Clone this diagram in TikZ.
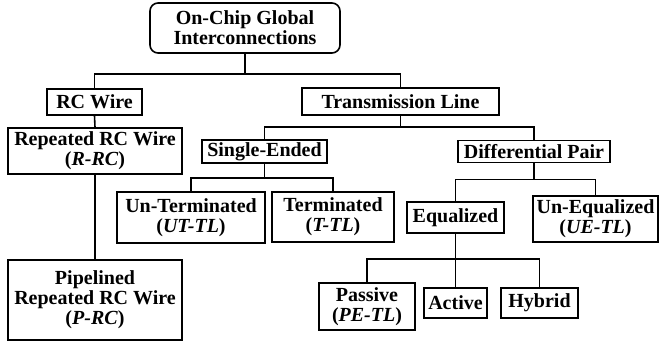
\documentclass[tikz,border=0pt]{standalone}
\usepackage{fontspec}
\setmainfont{Liberation Serif}

\begin{document}
\begin{tikzpicture}[x=1pt,y=-1pt]
      \tikzstyle{box}=[rectangle,draw=black,line width=1.6pt,inner sep=0pt,align=center,
        font=\fontsize{20}{20}\selectfont\bfseries]
      \tikzstyle{wire}=[line width=1.6pt]

      \useasboundingbox (0,0) rectangle (660,342);

      % root
      \node[box,rounded corners=8pt,minimum width=190pt,minimum height=50pt](root) at (245,28)
        {On-Chip Global\\Interconnections};

      % RC branch
      \node[box,minimum width=95pt,minimum height=26pt](rc) at (94.5,102){RC Wire};
      \node[box,minimum width=174pt,minimum height=46pt](rrc) at (95,151)
        {Repeated RC Wire\\(\textit{R-RC})};
      \node[box,minimum width=174pt,minimum height=80pt](prc) at (95,300)
        {Pipelined\\Repeated RC Wire\\(\textit{P-RC})};

      % transmission line branch
      \node[box,minimum width=197pt,minimum height=27pt](tl) at (400.5,101.5){Transmission Line};
      \node[box,minimum width=125pt,minimum height=23pt](se) at (264.5,151.5){Single-Ended};
      \node[box,minimum width=152pt,minimum height=22pt](dp) at (534,151.5){Differential Pair};

      \node[box,minimum width=148pt,minimum height=51pt](ut) at (191,217.5)
        {Un-Terminated\\(\textit{UT-TL})};
      \node[box,minimum width=122pt,minimum height=50pt](tt) at (333,217)
        {Terminated\\(\textit{T-TL})};

      \node[box,minimum width=97pt,minimum height=31pt](eq) at (455.5,217.5){Equalized};
      \node[box,minimum width=125pt,minimum height=46pt](ue) at (595.5,219)
        {Un-Equalized\\(\textit{UE-TL})};

      \node[box,minimum width=96pt,minimum height=47pt](pe) at (367,306.5)
        {Passive\\(\textit{PE-TL})};
      \node[box,minimum width=63pt,minimum height=30pt](ae) at (455.5,303){Active};
      \node[box,minimum width=77pt,minimum height=30pt](he) at (539.5,303){Hybrid};

      % connectors
      \draw[wire] (root.south) -- ++(0,20) -| (rc.north);
      \draw[wire] (root.south) -- ++(0,20) -| (tl.north);
      \draw[wire] (rc.south) -- (rrc.north);
      \draw[wire] (rrc.south) -- (prc.north);
      \draw[wire] (tl.south) -- ++(0,11) -| (se.north);
      \draw[wire] (tl.south) -- ++(0,11) -| (dp.north);
      \draw[wire] (se.south) -- ++(0,14) -| (ut.north);
      \draw[wire] (se.south) -- ++(0,14) -| (tt.north);
      \draw[wire] (dp.south) -- ++(0,16) -| (eq.north);
      \draw[wire] (dp.south) -- ++(0,16) -| (ue.north);
      \draw[wire] (eq.south) -- ++(0,25) -| (pe.north);
      \draw[wire] (eq.south) -- (ae.north);
      \draw[wire] (eq.south) -- ++(0,25) -| (he.north);
\end{tikzpicture}
\end{document}
